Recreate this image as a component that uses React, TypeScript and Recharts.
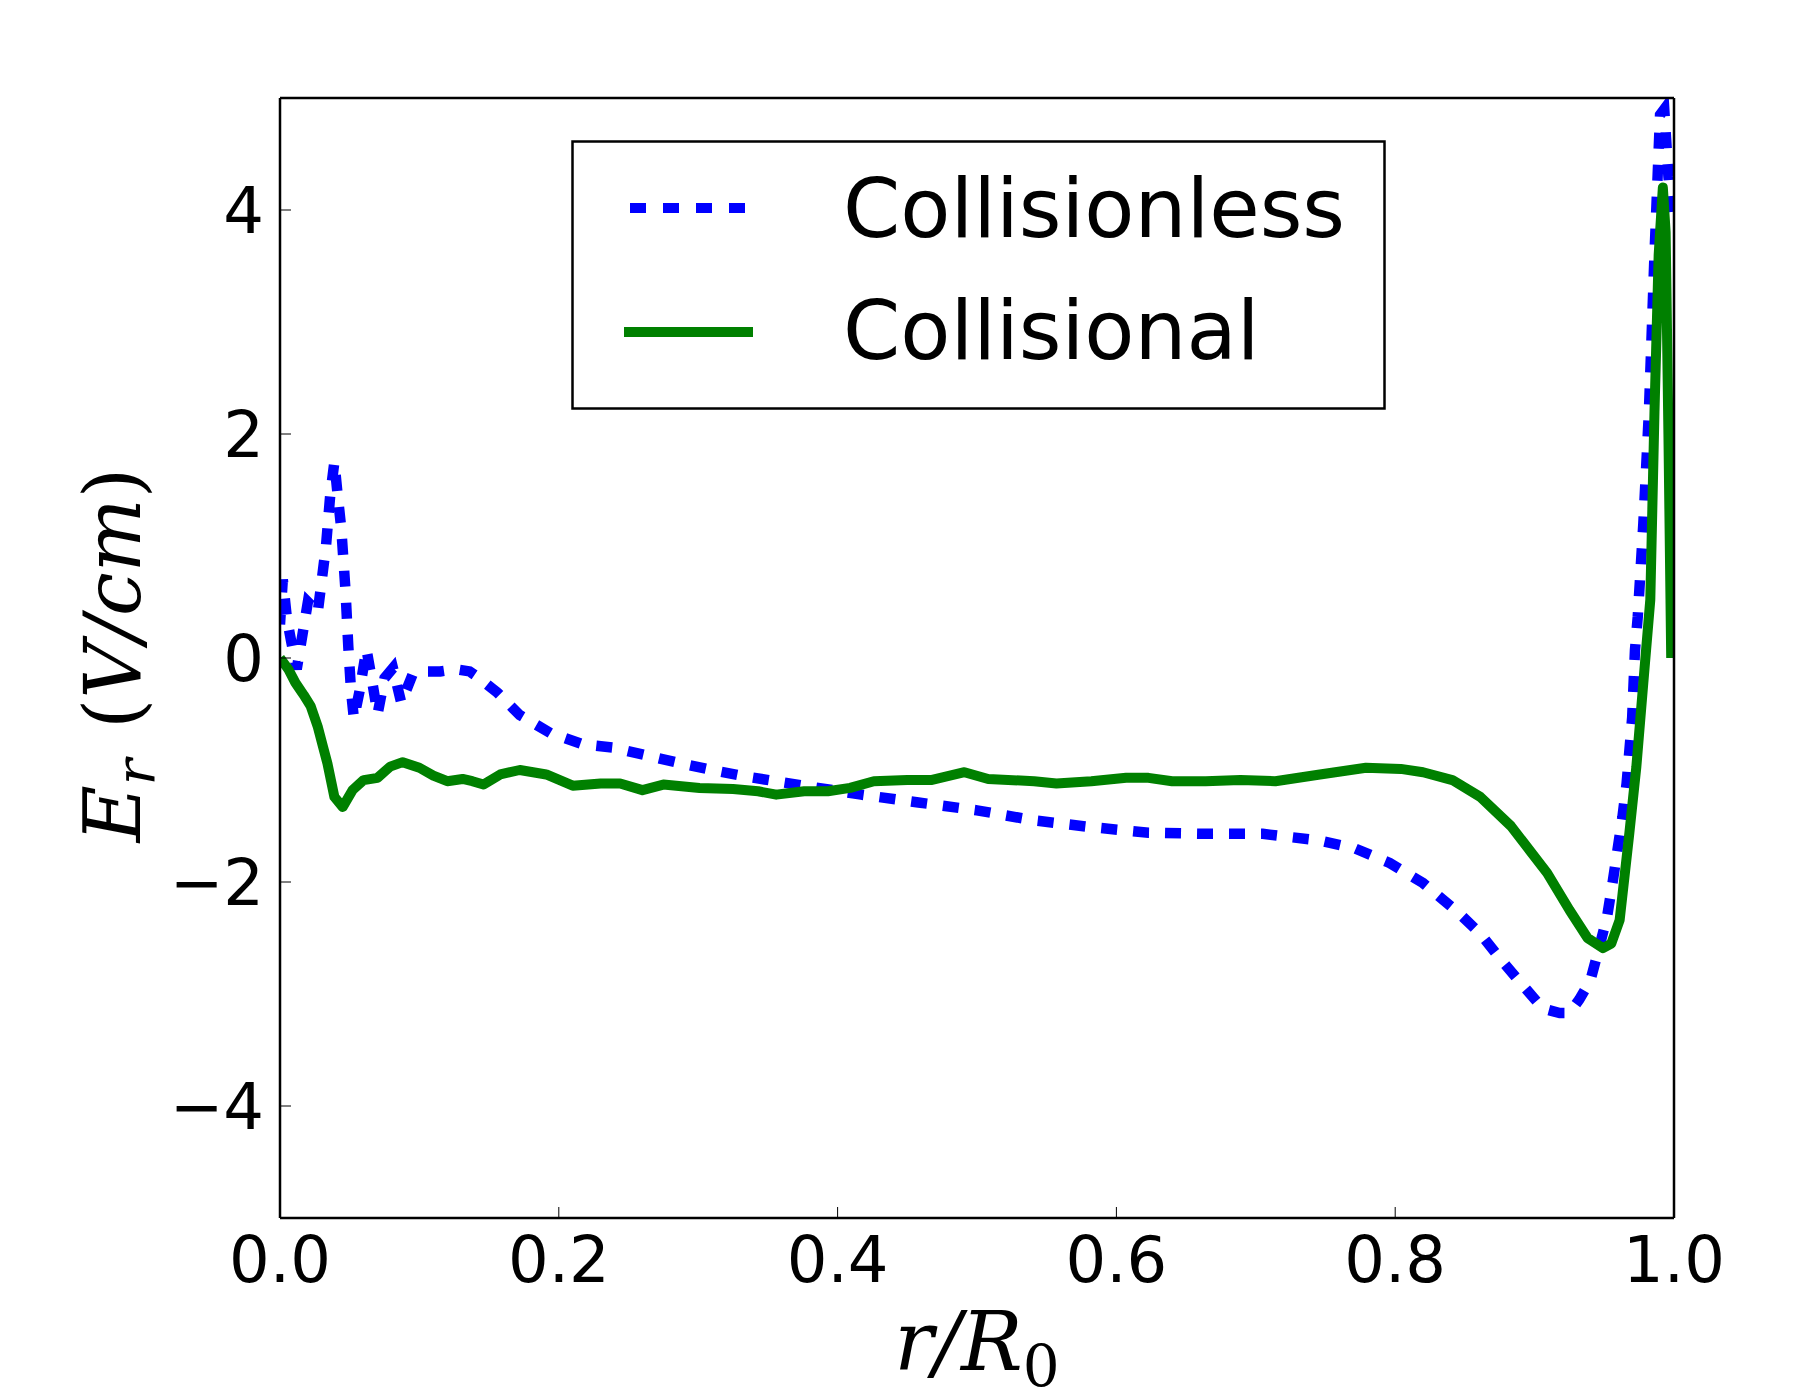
import { LineChart, Line, XAxis, YAxis, Legend } from 'recharts'

// r/R0 sample positions and E_r (V/cm) values
const rCollisionless = [
  0, 0.002, 0.005, 0.008, 0.012, 0.016, 0.02, 0.024, 0.027, 0.03, 0.033, 0.036, 0.039, 0.041, 0.044,
  0.047, 0.049, 0.051, 0.053, 0.057, 0.062, 0.066, 0.07, 0.075, 0.081, 0.087, 0.095, 0.105, 0.115,
  0.126, 0.136, 0.143, 0.156, 0.172, 0.194, 0.217, 0.239, 0.263, 0.287, 0.31, 0.335, 0.376, 0.417,
  0.458, 0.5, 0.541, 0.582, 0.623, 0.664, 0.705, 0.746, 0.771, 0.796, 0.82, 0.845, 0.861, 0.875,
  0.89, 0.906, 0.918, 0.925, 0.932, 0.94, 0.946, 0.952, 0.956, 0.963, 0.966, 0.97, 0.972, 0.974,
  0.978, 0.982, 0.986, 0.99, 0.993, 0.996, 0.999,
]
const eCollisionless = [
  0.3, 0.7, 0.35, 0.15, -0.1, 0.2, 0.5, 0.45, 0.4, 0.7, 1.0, 1.45, 1.75, 1.5, 1.15,
  0.6, 0.1, -0.3, -0.54, -0.3, 0.08, -0.2, -0.5, -0.18, -0.09, -0.4, -0.15, -0.12, -0.12,
  -0.1, -0.12, -0.18, -0.31, -0.51, -0.67, -0.77, -0.8, -0.87, -0.94, -1.0, -1.06, -1.14, -1.22,
  -1.29, -1.36, -1.45, -1.51, -1.56, -1.57, -1.57, -1.63, -1.7, -1.83, -2.01, -2.27, -2.46, -2.68,
  -2.9, -3.13, -3.17, -3.17, -3.05, -2.88, -2.6, -2.31, -2.0, -1.42, -1.12, -0.53, 0.07, 0.37,
  1.2, 2.2, 3.6, 4.85, 4.9, 4.3, 3.9,
]

const rCollisional = [
  0, 0.006, 0.011, 0.017, 0.022, 0.027, 0.031, 0.034, 0.039, 0.045, 0.052, 0.06, 0.07, 0.079, 0.088,
  0.1, 0.11, 0.12, 0.131, 0.138, 0.146, 0.158, 0.172, 0.191, 0.21, 0.23, 0.244, 0.26, 0.275, 0.301,
  0.325, 0.343, 0.356, 0.376, 0.393, 0.409, 0.426, 0.45, 0.467, 0.491, 0.508, 0.541, 0.557, 0.582,
  0.607, 0.623, 0.64, 0.664, 0.689, 0.714, 0.746, 0.779, 0.804, 0.82, 0.841, 0.861, 0.883, 0.909,
  0.925, 0.938, 0.949, 0.955, 0.961, 0.968, 0.973, 0.978, 0.983, 0.986, 0.989, 0.992, 0.994, 0.996,
  0.998,
]
const eCollisional = [
  0, -0.1, -0.22, -0.33, -0.43, -0.61, -0.8, -0.94, -1.24, -1.33, -1.18, -1.09, -1.07, -0.97, -0.93,
  -0.98, -1.05, -1.1, -1.08, -1.1, -1.13, -1.04, -1.0, -1.04, -1.14, -1.12, -1.12, -1.18, -1.13, -1.16,
  -1.17, -1.19, -1.22, -1.19, -1.19, -1.16, -1.1, -1.09, -1.09, -1.02, -1.08, -1.1, -1.12, -1.1,
  -1.07, -1.07, -1.1, -1.1, -1.09, -1.1, -1.04, -0.98, -0.99, -1.02, -1.09, -1.24, -1.5, -1.92,
  -2.25, -2.5, -2.59, -2.55, -2.34, -1.56, -0.97, -0.22, 0.52, 2.2, 3.6, 4.2, 3.8, 2.0,
  0,
]

const xTicks = [0, 0.2, 0.4, 0.6, 0.8, 1.0]
const yTicks = [-4, -2, 0, 2, 4]
const seriesNames = ['Collisionless', 'Collisional']

const collisionless = rCollisionless.map((r, i) => ({ r, e: eCollisionless[i] }))
const collisional = rCollisional.map((r, i) => ({ r, e: eCollisional[i] }))

const BLUE = '#0000ff'
const GREEN = '#008000'
const DASH = '16 16'
const tickFont = { fill: '#000', fontSize: 64, fontFamily: 'DejaVu Sans' }
const fmtY = (v: number) => String(v).replace('-', '\u2212')

function LegendBox() {
  return (
    <svg width={815} height={270}>
      <rect x={1.5} y={1.5} width={812} height={267} fill="#fff" stroke="#000" strokeWidth={2.5} />
      <line x1={59} x2={176} y1={68} y2={68} stroke={BLUE} strokeWidth={10} strokeDasharray="16 17" />
      <line x1={53} x2={182} y1={192} y2={192} stroke={GREEN} strokeWidth={10} />
      <text x={272} y={97} fontSize={82} fontFamily="DejaVu Sans">{seriesNames[0]}</text>
      <text x={272} y={219} fontSize={82} fontFamily="DejaVu Sans">{seriesNames[1]}</text>
    </svg>
  )
}

export default function App() {
  return (
    <div style={{ position: 'absolute', left: 0, top: 0, background: '#fff' }}>
      <LineChart width={1800} height={1400} margin={{ top: 97, left: 220, right: 125, bottom: 122 }}>
        <XAxis
          xAxisId="b"
          type="number"
          dataKey="r"
          domain={[0, 1]}
          ticks={xTicks}
          tickFormatter={(v: number) => v.toFixed(1)}
          height={60}
          tick={tickFont}
          tickSize={-11}
          tickMargin={30}
          stroke="#000"
          axisLine={{ strokeWidth: 2.5 }}
          allowDataOverflow
        />
        <XAxis
          xAxisId="t"
          orientation="top"
          type="number"
          dataKey="r"
          domain={[0, 1]}
          ticks={xTicks}
          height={1}
          tick={false}
          tickSize={-11}
          stroke="#000"
          axisLine={{ strokeWidth: 2.5 }}
        />
        <YAxis
          yAxisId="l"
          type="number"
          domain={[-5, 5]}
          ticks={yTicks}
          tickFormatter={fmtY}
          width={60}
          tick={tickFont}
          tickSize={-11}
          tickMargin={27}
          stroke="#000"
          axisLine={{ strokeWidth: 2.5 }}
          allowDataOverflow
        />
        <YAxis
          yAxisId="r"
          orientation="right"
          type="number"
          domain={[-5, 5]}
          ticks={yTicks}
          width={1}
          tick={false}
          tickSize={-11}
          stroke="#000"
          axisLine={{ strokeWidth: 2.5 }}
        />
        <Line
          xAxisId="b"
          yAxisId="l"
          data={collisionless}
          dataKey="e"
          name={seriesNames[0]}
          type="linear"
          stroke={BLUE}
          strokeWidth={10.5}
          strokeDasharray={DASH}
          dot={false}
          isAnimationActive={false}
        />
        <Line
          xAxisId="b"
          yAxisId="l"
          data={collisional}
          dataKey="e"
          name={seriesNames[1]}
          type="linear"
          stroke={GREEN}
          strokeWidth={10}
          strokeLinejoin="round"
          dot={false}
          isAnimationActive={false}
        />
        <Legend
          layout="horizontal"
          verticalAlign="middle"
          align="center"
          content={() => <LegendBox />}
          wrapperStyle={{ position: 'absolute', left: 571, top: 140, width: 815, height: 270 }}
        />
        <text
          x={977}
          y={1370}
          textAnchor="middle"
          fontSize={82}
          fontFamily="DejaVu Serif"
          fontStyle="italic"
        >
          r/R<tspan fontSize={58} dy={16} fontStyle="normal">0</tspan>
        </text>
        <text
          transform="translate(140 655) rotate(-90)"
          textAnchor="middle"
          fontSize={78}
          fontFamily="DejaVu Serif"
          fontStyle="italic"
        >
          E<tspan fontSize={55} dy={14}>r</tspan>
          <tspan dy={-14} dx={30} fontStyle="normal">(</tspan>V/cm<tspan fontStyle="normal">)</tspan>
        </text>
      </LineChart>
    </div>
  )
}
